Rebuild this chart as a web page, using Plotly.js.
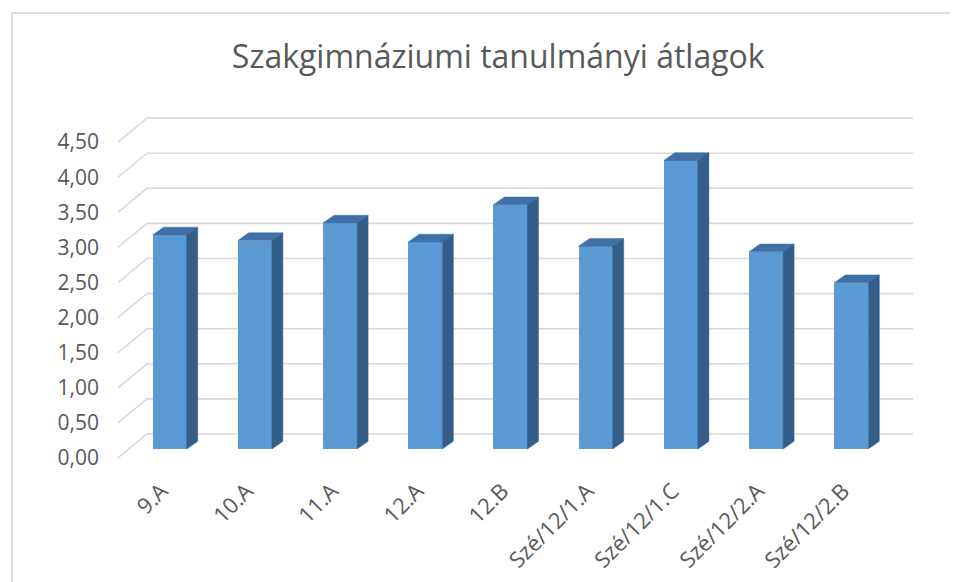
<!DOCTYPE html>
<html>
<head>
<meta charset="utf-8">
<script src="https://cdn.plot.ly/plotly-3.0.1.min.js"></script>
<style>
  html, body { margin: 0; padding: 0; background: #fff; }
  #frame { position: absolute; left: 11px; top: 12px; width: 937px; height: 580px;
           border-left: 2px solid #DCDCDC; border-top: 2px solid #DCDCDC; pointer-events: none; }
  #chart { position: absolute; left: 0; top: 0; width: 960px; height: 582px; }
</style>
</head>
<body>
<div id="chart"></div>
<div id="frame"></div>
<script>
// ---- data ----
const categories = ['9.A', '10.A', '11.A', '12.A', '12.B', 'Szé/12/1.A', 'Szé/12/1.C', 'Szé/12/2.A', 'Szé/12/2.B'];
const values = [3.05, 2.97, 3.22, 2.95, 3.48, 2.89, 4.11, 2.81, 2.37];
const yTicks = [0, 0.5, 1, 1.5, 2, 2.5, 3, 3.5, 4, 4.5];

// ---- oblique projection helpers (data units) ----
const DX = 0.340, DY = 0.342;      // full depth of floor/back wall
const FB = 0.375;                  // depth of bar front face
const HW = 0.20;                   // half width of bar
const BX = 0.129, BY = 0.110;      // bar depth offset
const XL = -0.479, XR = 8.852;     // left front edge, right end of back wall

const traces = [];
const idx = categories.map((_, i) => i);

// gridlines as shapes below the traces: front-left diagonal then along back wall
const shapes = yTicks.map(v => ({
  type: 'path', xref: 'x', yref: 'y', layer: 'below',
  path: `M${XL},${v} L${XL + DX},${v + DY} L${XR},${v + DY}`,
  line: {color: '#D9D9D9', width: 1.6}
}));

// top faces & side faces
const tx = [], ty = [], sx = [], sy = [];
idx.forEach(i => {
  const x0 = i - HW + FB * DX, x1 = i + HW + FB * DX;
  const y0 = FB * DY, y1 = values[i] + FB * DY;
  tx.push(x0, x1, x1 + BX, x0 + BX, x0, null);
  ty.push(y1, y1, y1 + BY, y1 + BY, y1, null);
  sx.push(x1, x1 + BX, x1 + BX, x1, x1, null);
  sy.push(y0, y0 + BY, y1 + BY, y1, y0, null);
});
traces.push({type: 'scatter', mode: 'lines', x: tx, y: ty, fill: 'toself',
  fillcolor: '#3F71A6', line: {width: 0.5, color: '#3F71A6'}, hoverinfo: 'skip', showlegend: false});
traces.push({type: 'scatter', mode: 'lines', x: sx, y: sy, fill: 'toself',
  fillcolor: '#335E8A', line: {width: 0.5, color: '#335E8A'}, hoverinfo: 'skip', showlegend: false});

// front faces
traces.push({type: 'bar', x: idx.map(i => i + FB * DX), y: values, base: FB * DY,
  width: 2 * HW, marker: {color: '#5B9BD5', line: {width: 0}},
  text: categories, hovertemplate: '%{text}: %{y:.2f}<extra></extra>', textposition: 'none', showlegend: false});

const layout = {
  width: 960, height: 582,
  margin: {l: 118, r: 20, t: 100, b: 112},
  paper_bgcolor: 'rgba(0,0,0,0)', plot_bgcolor: 'rgba(0,0,0,0)',
  separators: ', ',
  font: {family: 'Open Sans, sans-serif', color: '#595959'},
  title: {text: 'Szakgimnáziumi tanulmányi átlagok', x: 0.519, xanchor: 'center',
          y: 1 - 57 / 582, yanchor: 'middle', font: {size: 32, color: '#595959'}},
  xaxis: {range: [XL, XL + 822 / 85.2], showgrid: false, zeroline: false, showline: false,
          tickmode: 'array', tickvals: idx.map(i => i + 0.03), ticktext: categories,
          tickangle: -45, ticks: '', ticklabelstandoff: 3,
          tickfont: {size: 22, color: '#595959'}, fixedrange: true},
  yaxis: {range: [-0.171, 5.100], showgrid: false, zeroline: false, showline: false,
          tickmode: 'array', tickvals: yTicks, tickformat: '.2f', ticks: '',
          ticklabelstandoff: 18, tickfont: {size: 21, color: '#595959'}, fixedrange: true},
  shapes: shapes,
  bargap: 0
};

Plotly.newPlot('chart', traces, layout, {displayModeBar: false, staticPlot: true});
</script>
</body>
</html>
